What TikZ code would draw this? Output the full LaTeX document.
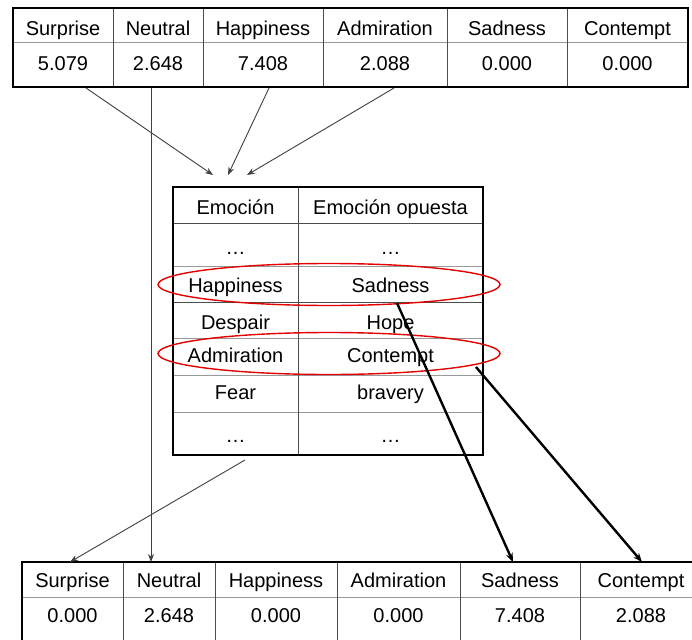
\documentclass[tikz,border=0pt]{standalone}
\usepackage{fontspec}
\setmainfont{Liberation Sans}
\usetikzlibrary{arrows.meta}
\begin{document}
\begin{tikzpicture}[x=1pt,y=-1pt,
  cell/.style={inner sep=0pt, text height=14.3pt, text depth=0pt, font=\fontsize{20}{24}\selectfont},
  outer/.style={line width=2.8pt, black},
  vline/.style={line width=1pt, black!70},
  hline/.style={line width=1pt, black!40},
  thinarrow/.style={line width=0.9pt, black!75, -{Stealth[length=8pt,width=6pt]}},
  thickarrow/.style={line width=2.4pt, black, -{Stealth[length=9pt,width=7pt]}},
  oval/.style={draw=red!90!black, line width=1.4pt}
]
\useasboundingbox (0,0) rectangle (692,639);
\clip (0,0) rectangle (692,639);
\fill[white] (0,0) rectangle (692,639);

% ---------- top table ----------
\draw[hline] (13,43) -- (688,43);
\foreach \x in {113,203,323,447,567} \draw[vline] (\x,8) -- (\x,87);
\draw[outer] (13,8) rectangle (688,87);
\foreach \n/\x/\h/\v in {a/63/Surprise/5.079, b/158/Neutral/2.648, c/263/Happiness/7.408, d/385/Admiration/2.088, e/507/Sadness/0.000, f/627.5/Contempt/0.000}{
  \node[cell] (th\n) at (\x,28) {\h};
  \node[cell] (tv\n) at (\x,63.5) {\v};
}

% ---------- middle table ----------
\draw[vline] (173,223) -- (483,223);
\draw[hline] (173,266) -- (483,266);
\draw[vline] (173,302) -- (483,302);
\draw[hline] (173,338) -- (483,338);
\draw[hline] (173,375) -- (483,375);
\draw[hline] (173,412) -- (483,412);
\draw[vline] (298,187) -- (298,455);
\draw[outer] (173,187) rectangle (483,455);
\node[cell] (mh1) at (235.5,207.5) {Emoción};
\node[cell] (mh2) at (390.5,207.5) {Emoción opuesta};
\node[cell] (md1) at (235.5,247) {…};
\node[cell] (md2) at (390.5,247) {…};
\node[cell] (mhap) at (235.5,285.5) {Happiness};
\node[cell] (msad) at (390.5,285.5) {Sadness};
\node[cell] (mdes) at (235.5,322.5) {Despair};
\node[cell] (mhop) at (390.5,322.5) {Hope};
\node[cell] (madm) at (235.5,355.5) {Admiration};
\node[cell] (mcon) at (390.5,355.5) {Contempt};
\node[cell] (mfea) at (235.5,392.5) {Fear};
\node[cell] (mbra) at (390.5,392.5) {bravery};
\node[cell] (me1) at (235.5,435) {…};
\node[cell] (me2) at (390.5,435) {…};

% ---------- bottom table ----------
\draw[hline] (22,597) -- (702,597);
\foreach \x in {123,215,337,460,580} \draw[vline] (\x,562) -- (\x,650);
\draw[outer] (22,562) rectangle (702,650);
\foreach \n/\x/\h/\v in {a/72.5/Surprise/0.000, b/169/Neutral/2.648, c/276/Happiness/0.000, d/398.5/Admiration/0.000, e/520/Sadness/7.408, f/641/Contempt/2.088}{
  \node[cell] (bh\n) at (\x,580.5) {\h};
  \node[cell] (bv\n) at (\x,615.5) {\v};
}

% ---------- ovals ----------
\draw[oval] (329,284.5) ellipse [x radius=171pt, y radius=21pt];
\draw[oval] (329,353.5) ellipse [x radius=171pt, y radius=21pt];

% ---------- connector end points ----------
\coordinate (s1) at (86,88);
\coordinate (s2) at (269,88);
\coordinate (s3) at (394,88);
\coordinate (sn) at (151,88);
\coordinate (e1) at (213,175);
\coordinate (e2) at (228,175);
\coordinate (e3) at (247,175);
\coordinate (en) at (151,562);
\coordinate (sm) at (245,460);
\coordinate (em) at (70,562);
\coordinate (ss) at (397,303);
\coordinate (es) at (513,562);
\coordinate (sc) at (476,367);
\coordinate (ec) at (642,562);

\draw[thinarrow] (s1) -- (e1);
\draw[thinarrow] (s2) -- (e2);
\draw[thinarrow] (s3) -- (e3);
\draw[thinarrow] (sn) -- (en);
\draw[thinarrow] (sm) -- (em);
\draw[thickarrow] (ss) -- (es);
\draw[thickarrow] (sc) -- (ec);
\end{tikzpicture}
\end{document}
